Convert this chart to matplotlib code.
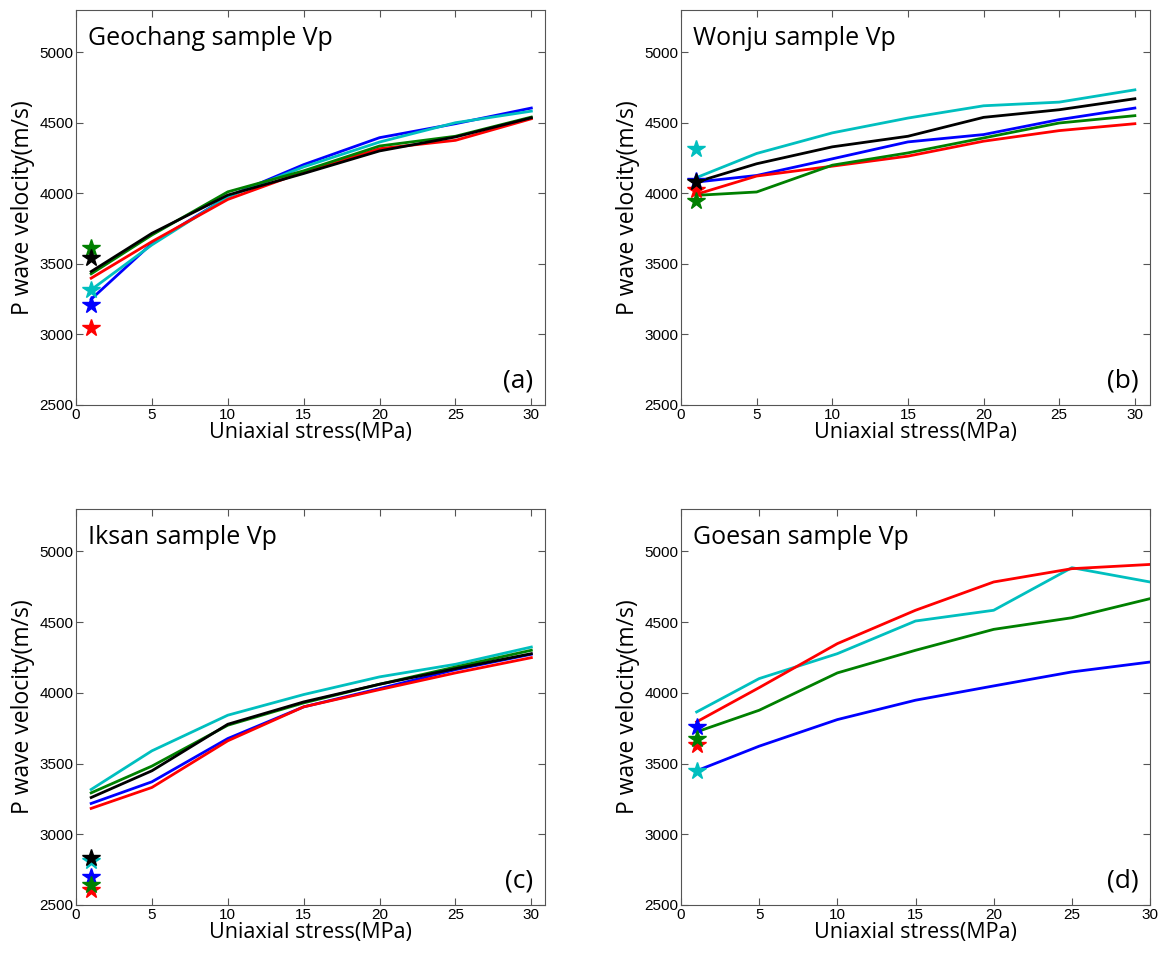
import matplotlib
matplotlib.use('Agg')
import matplotlib.pyplot as plt

# stress steps (MPa)
stress = [1, 5, 10, 15, 20, 25, 30]

# Geochang
geo_blue = [3250, 3645, 3976, 4204, 4395, 4494, 4605]
geo_cyan = [3317, 3635, 3976, 4188, 4364, 4501, 4583]
geo_red = [3399, 3658, 3957, 4153, 4317, 4376, 4529]
geo_green = [3430, 3705, 4011, 4160, 4336, 4405, 4541]
geo_black = [3446, 3717, 3988, 4141, 4301, 4400, 4536]
geo_stars = {'b': 3211, 'c': 3317, 'r': 3046, 'g': 3611, 'k': 3540}

# Wonju
won_blue = [4080, 4127, 4245, 4365, 4417, 4523, 4605]
won_cyan = [4111, 4283, 4429, 4534, 4621, 4647, 4734]
won_red = [3993, 4123, 4193, 4264, 4370, 4445, 4494]
won_green = [3986, 4010, 4200, 4287, 4393, 4499, 4551]
won_black = [4080, 4210, 4330, 4405, 4539, 4593, 4671]
won_stars = {'b': 4087, 'c': 4316, 'r': 4022, 'g': 3946, 'k': 4080}

# Iksan
iks_blue = [3218, 3371, 3677, 3901, 4030, 4164, 4273]
iks_cyan = [3317, 3590, 3842, 3988, 4113, 4202, 4324]
iks_red = [3183, 3331, 3661, 3901, 4023, 4141, 4249]
iks_green = [3293, 3482, 3771, 3929, 4061, 4183, 4301]
iks_black = [3260, 3449, 3778, 3936, 4061, 4171, 4277]
iks_stars = {'b': 2700, 'c': 2813, 'r': 2606, 'g': 2641, 'k': 2830}

# Goesan (no black series)
goe_blue = [3449, 3623, 3811, 3948, 4049, 4148, 4218]
goe_cyan = [3865, 4101, 4277, 4508, 4584, 4885, 4784]
goe_red = [3795, 4037, 4348, 4584, 4784, 4878, 4908]
goe_green = [3724, 3877, 4141, 4301, 4449, 4531, 4666]
goe_stars = {'b': 3759, 'c': 3449, 'r': 3630, 'g': 3677}

colors = {'b': '#0000ff', 'c': '#00bfbf', 'r': '#ff0000', 'g': '#008000', 'k': '#000000'}

panels = [
    ('Geochang sample Vp', '(a)', {'b': geo_blue, 'c': geo_cyan, 'r': geo_red, 'g': geo_green, 'k': geo_black}, geo_stars, 30.9),
    ('Wonju sample Vp', '(b)', {'b': won_blue, 'c': won_cyan, 'r': won_red, 'g': won_green, 'k': won_black}, won_stars, 31),
    ('Iksan sample Vp', '(c)', {'b': iks_blue, 'c': iks_cyan, 'r': iks_red, 'g': iks_green, 'k': iks_black}, iks_stars, 30.9),
    ('Goesan sample Vp', '(d)', {'b': goe_blue, 'c': goe_cyan, 'r': goe_red, 'g': goe_green}, goe_stars, 30),
]

# axes rectangles in pixels: left, right, top, bottom
W, H = 1162, 955
boxes = [(76, 545, 10, 405), (681, 1150, 10, 405), (76, 545, 509, 905), (681, 1150, 509, 905)]

fig = plt.figure(figsize=(W / 100, H / 100), dpi=100)
lab_font = 'Open Sans'

for (title, tag, series, stars, xmax), (l, r, t, b) in zip(panels, boxes):
    ax = fig.add_axes([l / W, 1 - b / H, (r - l) / W, (b - t) / H])
    for key, vals in series.items():
        ax.plot(stress, vals, color=colors[key], lw=2)
    for key, v in stars.items():
        ax.plot(1, v, marker='*', ms=13, color=colors[key], ls='none')
    ax.set_xlim(0, xmax)
    ax.set_ylim(2500, 5300)
    ax.set_xticks(range(0, 31, 5))
    ax.set_yticks(range(2500, 5001, 500))
    ax.tick_params(direction='in', top=True, right=True, labelsize=11, length=5, color='#555555', pad=2)
    for s in ax.spines.values():
        s.set_color('#555555')
    for lbl in ax.get_xticklabels() + ax.get_yticklabels():
        lbl.set_family('Liberation Sans')
    ax.set_xlabel('Uniaxial stress(MPa)', fontsize=15.5, family=lab_font, labelpad=0)
    ax.set_ylabel('P wave velocity(m/s)', fontsize=16.5, family=lab_font, labelpad=3)
    ax.text(0.025, 0.96, title, transform=ax.transAxes, fontsize=18, family=lab_font, va='top', ha='left')
    ax.text(0.975, 0.03, tag, transform=ax.transAxes, fontsize=19, family=lab_font, va='bottom', ha='right')

fig.savefig('out.png', dpi=100)
